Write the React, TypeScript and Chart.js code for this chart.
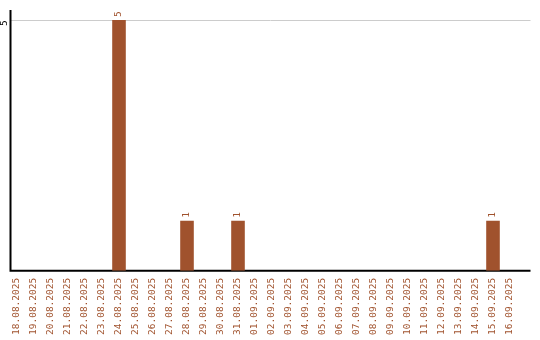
import React, { useEffect, useRef } from "react";
import { Chart, registerables } from "chart.js";

Chart.register(...registerables);

const dates = [
  "18.08.2025", "19.08.2025", "20.08.2025", "21.08.2025", "22.08.2025",
  "23.08.2025", "24.08.2025", "25.08.2025", "26.08.2025", "27.08.2025",
  "28.08.2025", "29.08.2025", "30.08.2025", "31.08.2025", "01.09.2025",
  "02.09.2025", "03.09.2025", "04.09.2025", "05.09.2025", "06.09.2025",
  "07.09.2025", "08.09.2025", "09.09.2025", "10.09.2025", "11.09.2025",
  "12.09.2025", "13.09.2025", "14.09.2025", "15.09.2025", "16.09.2025",
];

const counts = [
  0, 0, 0, 0, 0,
  0, 5, 0, 0, 0,
  1, 0, 0, 1, 0,
  0, 0, 0, 0, 0,
  0, 0, 0, 0, 0,
  0, 0, 0, 1, 0,
];

const yTicks = [5];

const BAR_COLOR = "#A0522D";
const FONT = "9.5px 'DejaVu Sans Mono', monospace";

// Axis lines, the single horizontal grid line and the rotated y tick label
const framePlugin = {
  id: "frame",
  beforeDatasetsDraw(chart: any) {
    const { ctx, chartArea, scales } = chart;
    const y = scales.y;
    const axisX = chartArea.left + 2;
    const endX = chartArea.right + 12;
    ctx.save();
    ctx.lineWidth = 1;
    ctx.strokeStyle = "#cccccc";
    yTicks.forEach((v) => {
      const py = Math.round(y.getPixelForValue(v)) + 0.5;
      ctx.beginPath();
      ctx.moveTo(axisX, py);
      ctx.lineTo(endX, py);
      ctx.stroke();
    });
    ctx.strokeStyle = "#000000";
    ctx.lineWidth = 2;
    ctx.beginPath();
    ctx.moveTo(axisX, chartArea.top);
    ctx.lineTo(axisX, chartArea.bottom);
    ctx.lineTo(endX, chartArea.bottom);
    ctx.stroke();

    ctx.fillStyle = "#000000";
    ctx.font = FONT;
    ctx.textAlign = "center";
    ctx.textBaseline = "middle";
    yTicks.forEach((v) => {
      const py = y.getPixelForValue(v);
      ctx.save();
      ctx.translate(axisX - 5.5, py + 3);
      ctx.rotate(-Math.PI / 2);
      ctx.fillText(String(v), 0, 0);
      ctx.restore();
    });
    ctx.restore();
  },
  afterDatasetsDraw(chart: any) {
    const { ctx } = chart;
    const meta = chart.getDatasetMeta(0);
    ctx.save();
    ctx.fillStyle = BAR_COLOR;
    ctx.font = FONT;
    ctx.textAlign = "left";
    ctx.textBaseline = "middle";
    meta.data.forEach((bar: any, i: number) => {
      const v = counts[i];
      if (!v) return;
      ctx.save();
      ctx.translate(bar.x, bar.y - 3);
      ctx.rotate(-Math.PI / 2);
      ctx.fillText(String(v), 0, 0);
      ctx.restore();
    });
    ctx.restore();
  },
};

export default function App() {
  const canvasRef = useRef<HTMLCanvasElement | null>(null);

  useEffect(() => {
    if (!canvasRef.current) return;
    const chart = new Chart(canvasRef.current, {
      type: "bar",
      data: {
        labels: dates,
        datasets: [
          {
            data: counts,
            backgroundColor: BAR_COLOR,
            borderWidth: 0,
            barPercentage: 0.8,
            categoryPercentage: 1,
          },
        ],
      },
      options: {
        animation: false,
        responsive: false,
        maintainAspectRatio: false,
        layout: { padding: { left: 8.5, right: 21.5, top: 10, bottom: -2 } },
        plugins: {
          legend: { display: false },
          tooltip: { enabled: false },
        },
        scales: {
          x: {
            offset: true,
            grid: { display: false, drawTicks: false },
            border: { display: false },
            ticks: {
              autoSkip: false,
              minRotation: 90,
              maxRotation: 90,
              padding: 7,
              color: BAR_COLOR,
              font: { family: "'DejaVu Sans Mono', monospace", size: 9.5 },
            },
          },
          y: {
            display: false,
            min: 0,
            max: 5.2,
          },
        },
      },
      plugins: [framePlugin],
    });
    return () => chart.destroy();
  }, []);

  return (
    <div style={{ position: "absolute", left: 0, top: 0, width: 540, height: 340 }}>
      <canvas ref={canvasRef} width={540} height={340} style={{ display: "block", width: 540, height: 340 }} />
    </div>
  );
}
